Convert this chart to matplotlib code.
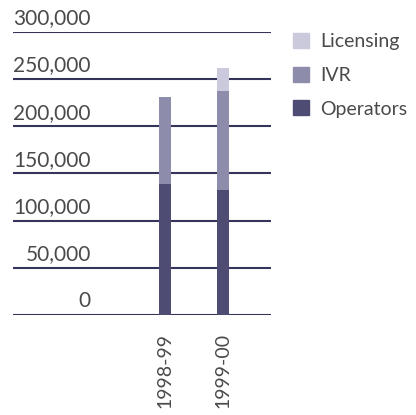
import matplotlib
matplotlib.use('Agg')
import matplotlib.pyplot as plt
import matplotlib.transforms as mtransforms
from matplotlib.patches import Patch
import numpy as np

plt.rcParams['font.family'] = ['Lato', 'DejaVu Sans']

## Data
years = ['1998-99', '1999-00']
operators = [139000, 133000]
ivr = [92000, 104500]
licensing = [0, 24000]
ticks = [0, 50000, 100000, 150000, 200000, 250000, 300000]

c_ops = '#4f4c74'
c_ivr = '#8e8cab'
c_lic = '#cbcadc'
c_grid = '#35345a'
c_text = '#4a4a4a'

fig = plt.figure(figsize=(4.16, 4.15), dpi=100)
ax = fig.add_axes([13 / 416, 1 - 315 / 415, 258 / 416, 283 / 415])

x = np.arange(len(years))
w = 0.21
ops = np.array(operators)
iv = np.array(ivr)
lic = np.array(licensing)

for t in ticks:
    ax.axhline(t, color=c_grid, lw=1.5, zorder=1)

ax.bar(x, ops, w, color=c_ops, zorder=2, label='Operators')
ax.bar(x, iv, w, bottom=ops, color=c_ivr, zorder=2, label='IVR')
ax.bar(x, lic, w, bottom=ops + iv, color=c_lic, zorder=2, label='Licensing')

ax.set_xlim(-2.62, 1.83)
ax.set_ylim(0, 300000)

for s in ax.spines.values():
    s.set_visible(False)
ax.set_yticks([])
ax.set_xticks(x)
ax.set_xticklabels(years, rotation=90, fontsize=14, color=c_text)
ax.tick_params(axis='x', length=0, pad=13)

trans = mtransforms.blended_transform_factory(ax.transAxes, ax.transData)
for t in ticks:
    ax.annotate('{:,}'.format(t), xy=(0.302, t), xycoords=trans,
                xytext=(0, 5.5), textcoords='offset points',
                ha='right', va='baseline', fontsize=15, color=c_text)

handles = [Patch(color=c_lic), Patch(color=c_ivr), Patch(color=c_ops)]
fig.legend(handles, ['Licensing', 'IVR', 'Operators'],
           loc='upper left', bbox_to_anchor=(293 / 416, 1 - 33 / 415),
           frameon=False, fontsize=14, handlelength=0.8, handleheight=0.8,
           handletextpad=0.6, labelspacing=0.85, borderpad=0, borderaxespad=0,
           labelcolor=c_text)

fig.savefig('out.png', dpi=100, facecolor='white')
